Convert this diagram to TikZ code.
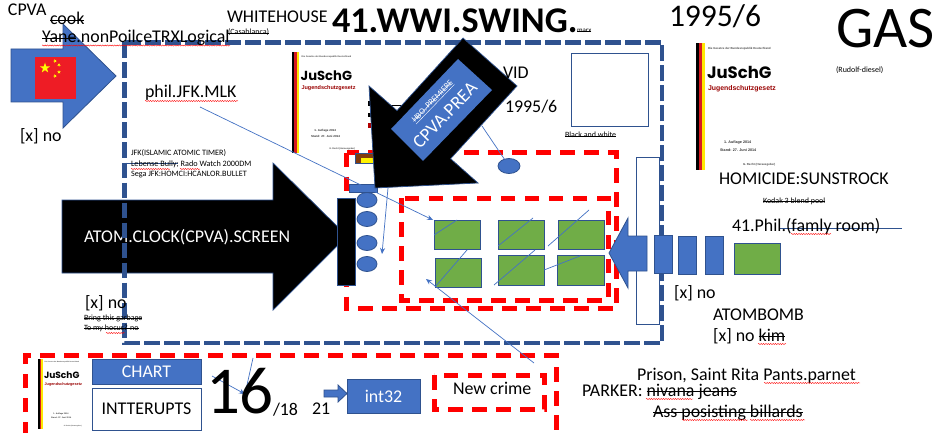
\documentclass[tikz,border=0pt]{standalone}
\usepackage{fontspec}
\setmainfont{Carlito}
\newfontfamily\arialf{Liberation Sans}
\newfontfamily\popf{Poppins}
\usetikzlibrary{shapes.geometric,decorations.pathmorphing,arrows.meta}
\definecolor{bfill}{HTML}{4472C4}
\definecolor{bedge}{HTML}{2F528F}
\definecolor{gfill}{HTML}{70AD47}
\definecolor{brownf}{HTML}{843C0C}
\definecolor{flagred}{HTML}{EE1C25}
\definecolor{flagyel}{HTML}{FFFF00}
\newcommand\stk[1]{\leavevmode\setbox0\hbox{#1}\rlap{\copy0}\rule[0.24em]{\wd0}{0.065em}}
\newcommand\wv[3]{\draw[squig] (#1,#3) -- (#2,#3);}
\newcommand\fs[1]{\fontsize{#1pt}{#1pt}\selectfont}
% rectangle node from two corners: name, x1, y1, x2, y2, style, text
\newcommand\bx[7]{\node[#6,minimum width={(#4-#2)*1pt},minimum height={(#5-#3)*1pt},anchor=north west] (#1) at (#2,#3) {#7};}
\newcommand\thumb[4]{%
\begin{scope}[shift={(#2,#3)},scale=#4,transform shape]
\fill[black] (0,0) rectangle (3,127);
\fill[flagred!90!black] (3,0) rectangle (6,127);
\fill[yellow!90!orange] (6,0) rectangle (9,127);
\node[thtxt,font=\arialf\bfseries\fs{2.9}\color{black!70}] (#1a) at (12,7) {Die Gesetze der Bundesrepublik Deutschland};
\node[thtxt,font=\popf\bfseries\fs{16.5}] (#1b) at (11,36) {JuSchG};
\node[thtxt,font=\arialf\bfseries\fs{6.9}\color{red!60!black}] (#1c) at (12,47.5) {Jugendschutzgesetz};
\node[thtxt,font=\arialf\bfseries\fs{3.7}\color{black!80}] (#1d) at (28,100.5) {1. Auflage 2014};
\node[thtxt,font=\arialf\bfseries\fs{3.7}\color{black!80}] (#1e) at (24,108) {Stand: 27. Juni 2014};
\node[thtxt,font=\arialf\bfseries\fs{2.9}\color{black!70}] (#1f) at (47,122.5) {G. Recht (Herausgeber)};
\end{scope}}
\tikzset{
 txt/.style={anchor=base west,inner sep=0pt,outer sep=0pt,font=\fs{17.9}},
 smalltxt/.style={txt,font=\fs{8}},
 thtxt/.style={anchor=base west,inner sep=0pt,outer sep=0pt},
 blueshape/.style={fill=bfill,draw=bedge,line width=.8pt},
 bluebox/.style={blueshape,inner sep=0pt,outer sep=0pt,text=white,font=\fs{17.9}},
 plainbox/.style={draw=bedge,line width=.8pt,fill=white,inner sep=0pt,outer sep=0pt,font=\fs{17.9}},
 greenbox/.style={fill=gfill,draw=bedge,line width=.8pt,inner sep=0pt,outer sep=0pt},
 blackshape/.style={fill=black,draw=bedge,line width=.7pt},
 dot/.style={ellipse,blueshape,inner sep=0pt,outer sep=0pt},
 bigdash/.style={draw=bedge,line width=4.6pt,dash pattern=on 15.7pt off 4.3pt},
 reddash/.style={draw=red,line width=5pt,dash pattern=on 14.5pt off 9.5pt},
 thinline/.style={draw=bfill,line width=.7pt},
 thinarrow/.style={thinline,-{Stealth[length=6pt,width=5pt]}},
 squig/.style={draw=red,line width=.4pt,decorate,decoration={snake,segment length=2.4pt,amplitude=.55pt}},
 flagstar/.style={star,star points=5,star point ratio=2.6,fill=flagyel,inner sep=0pt,outer sep=0pt},
}
\begin{document}
\begin{tikzpicture}[x=1pt,y=-1pt]
\useasboundingbox (0,0) rectangle (950,433);
\fill[white] (0,0) rectangle (950,433);
% document thumbnails
\thumb{ta}{292}{52}{.795}
\thumb{tb}{696}{43}{1}
\thumb{tc}{38}{359}{.55}
% left blue arrow and flag
\path[blueshape] (11,49) -- (63,49) -- (63,24) -- (116,76) -- (63,128) -- (63,102) -- (11,102) -- cycle;
\fill[flagred] (35,57) rectangle (76,99);
\node[flagstar,minimum size=11pt] (s0) at (45,68) {};
\node[flagstar,minimum size=3.8pt,rotate=20] (s1) at (55,61) {};
\node[flagstar,minimum size=3.8pt,rotate=40] (s2) at (59,65) {};
\node[flagstar,minimum size=3.8pt] (s3) at (59,72) {};
\node[flagstar,minimum size=3.8pt,rotate=20] (s4) at (55,76) {};
% big black arrow
\path[blackshape] (62,200) -- (273,200) -- (273,163) -- (347,236) -- (273,310) -- (273,273) -- (62,273) -- cycle;
\node[txt,text=white] (atom) at (84,242) {ATOM.CLOCK(CPVA).SCREEN};
% big dashed frame
\draw[bigdash] (124.5,42.5) rectangle (662,343);
% red frames
\draw[reddash] (346.5,152.5) rectangle (616.5,308.7);
\draw[reddash] (401,198) rectangle (608,300);
\draw[reddash] (25,436) -- (25,355) -- (556,355) -- (556,436);
\draw[reddash] (434,375) rectangle (544,409);
% boxes in the centre
\bx{brown}{355}{153}{373}{163}{fill=brownf,draw=bedge,line width=.8pt,inner sep=0pt}{}
\fill[yellow] (361,158) rectangle (373,163);
\bx{blk}{337}{198}{355}{285}{fill=black,draw=bedge,line width=.8pt,inner sep=0pt}{}
\node[dot,minimum width=20pt,minimum height=15pt] (e1) at (367,200) {};
\node[dot,minimum width=20pt,minimum height=15pt] (e2) at (367,219) {};
\node[dot,minimum width=20pt,minimum height=15pt] (e3) at (367,243) {};
\node[dot,minimum width=20pt,minimum height=15pt] (e4) at (367,264) {};
\node[dot,minimum width=22pt,minimum height=15pt] (e0) at (509,166) {};
\bx{lid}{349}{184}{377}{192}{bluebox}{}
\bx{g1}{434}{220}{480}{249.5}{greenbox}{}
\bx{g2}{498}{220}{544}{249.5}{greenbox}{}
\bx{g3}{558}{220}{604}{249.5}{greenbox}{}
\bx{g4}{435}{258}{481}{287}{greenbox}{}
\bx{g5}{498}{255}{544}{285}{greenbox}{}
\bx{g6}{557}{255}{604}{285}{greenbox}{}
\bx{g7}{734}{243}{780}{274}{greenbox}{}
\bx{topbox}{571}{53}{648}{126}{plainbox}{}
\bx{tall}{636}{157}{659}{324}{plainbox}{}
\bx{b1}{654}{235}{672}{273}{bluebox}{}
\bx{b2}{678}{236}{696}{274}{bluebox}{}
\bx{b3}{705}{236}{723}{274}{bluebox}{}
\path[blueshape] (647,236) -- (628,236) -- (628,218) -- (609,253) -- (628,288) -- (628,271) -- (647,271) -- cycle;
% bottom row
\bx{chart}{92}{359}{201}{384}{bluebox}{CHART}
\bx{intt}{92}{388}{201}{430}{plainbox}{INTTERUPTS}
\path[blueshape] (324,390) -- (338,390) -- (338,385) -- (347,393.5) -- (338,402) -- (338,397) -- (324,397) -- cycle;
\bx{int}{347}{379}{420}{413}{bluebox}{int32}
% thin connectors
\coordinate (c1) at (200,107); \coordinate (c2) at (433,220);
\coordinate (c3) at (482,126);
\coordinate (c4) at (388,188); \coordinate (c5) at (382,254);
\coordinate (c6) at (457,220); \coordinate (c7) at (434,235);
\coordinate (c8) at (467,250); \coordinate (c9) at (435,287);
\coordinate (c10) at (533,218); \coordinate (c11) at (498,246);
\coordinate (c12) at (535,250); \coordinate (c13) at (494,285);
\coordinate (c14) at (589,210); \coordinate (c15) at (548,246);
\coordinate (c16) at (580,256); \coordinate (c17) at (544,270);
\coordinate (c18) at (534,363); \coordinate (c19) at (426,279);
\coordinate (c20) at (212,376); \coordinate (c21) at (245,394); \coordinate (c22) at (253,358);
\coordinate (c23) at (780,228); \coordinate (c24) at (902,228);
\coordinate (c25) at (124,163); \coordinate (c26) at (178,163);
\draw[thinarrow] (c1) -- (c2);
\draw[thinline] (c3) -- (e0);
\draw[thinarrow] (c4) -- (c5);
\draw[thinline] (c6) -- (c7);
\draw[thinline] (c8) -- (c9);
\draw[thinline] (c10) -- (c11);
\draw[thinline] (c12) -- (c13);
\draw[thinline] (c14) -- (c15);
\draw[thinline] (c16) -- (c17);
\draw[thinarrow] (c18) -- (c19);
\draw[thinarrow] (c20) -- (c21);
\draw[thinline] (c22) -- (c21);
\draw[draw=bedge,line width=.7pt] (c23) -- (c24);
\draw[draw=bedge,line width=.6pt] (c25) -- (c26);
% scraps of text showing beside the diagonal arrow
\fill[black] (368,101) rectangle (371,106);
\fill[black] (368,113) rectangle (371,117);
\fill[red!70!black] (368,123) rectangle (371,128);
\draw[black,line width=.6pt] (391,105) -- (404,105);
% diagonal black arrow
\path[blackshape] (463,38) -- (517,86) -- (450.6,158.7) -- (478,183) -- (375,188) -- (369,86) -- (397,110.6) -- cycle;
\path[blueshape,draw=none] (458,59) -- (492,90) -- (423,161) -- (391,129) -- cycle;
\node[inner sep=0pt,rotate=46,text=white,font=\fs{18.5}] (prea) at (445,115) {CPVA.PREA};
\node[inner sep=0pt,rotate=46,text=white,font=\fs{8.5}] (hbo) at (433,102) {\underline{\stk{HBO. PREMIERE}}};
% texts
\node[txt] (cpva) at (8,16) {CPVA};
\node[txt] (cook) at (50,25) {\stk{cook}};
\node[txt] (yane) at (42,43) {\stk{Yane}.nonPoilceTRXLogical};
\node[smalltxt] (casa) at (228,35) {\stk{(Casablanca)}};
\node[txt] (wh) at (227,23) {WHITEHOUSE};
\node[txt,font=\bfseries\fs{36.2}] (wwi) at (332,33) {41.WWI.SWING.};
\node[smalltxt,font=\fs{7}] (marx) at (577,33) {\stk{marx}};
\node[txt] (vid) at (503,79) {VID};
\node[txt] (y1) at (505,113) {1995/6};
\node[smalltxt] (bw) at (565,138) {\stk{Black and white}};
\node[txt,font=\fs{31.5}] (y2) at (669,27) {1995/6};
\node[txt,font=\fs{59}] (gas) at (836,48) {GAS};
\node[smalltxt] (rud) at (836,73) {(Rudolf-diesel)};
\node[txt] (homi) at (719,184) {HOMICIDE:SUNSTROCK};
\node[smalltxt] (kodak) at (763,203) {\stk{Kodak 3 blend pool}};
\node[txt] (phil41) at (732,231) {41.Phil.(famly room)};
\node[txt] (no1) at (20,142) {[x] no};
\node[txt] (no2) at (85,308) {[x] no};
\node[smalltxt] (bring) at (84,320) {\stk{Bring this garbage}};
\node[smalltxt] (tomy) at (84,330) {\stk{To my hocus? no}};
\node[smalltxt,font=\fs{8.2}] (jfk1) at (131,156) {JFK(ISLAMIC ATOMIC TIMER)};
\node[smalltxt,font=\fs{8.2}] (jfk2) at (131,166) {Lebense Bully; Rado Watch 2000DM};
\node[smalltxt,font=\fs{8.2}] (jfk3) at (131,176) {Sega JFK:HOMCI:HCANLOR.BULLET};
\node[txt] (phil) at (145,98) {phil.JFK.MLK};
\node[txt,font=\fs{67}] (n16) at (206,413) {16};
\node[txt] (n18) at (273,415) {/18};
\node[txt] (n21) at (312,414) {21};
\node[txt] (crime) at (453,394) {New crime};
\node[txt] (prison) at (637,380) {Prison, Saint Rita Pants.parnet};
\node[txt] (parker) at (582,396) {PARKER: \stk{nivana jeans}};
\node[txt] (ass) at (653,417) {\stk{Ass posisting billards}};
\node[txt] (no3) at (674,298) {[x] no};
\node[txt] (bomb) at (713,320) {ATOMBOMB};
\node[txt] (no4) at (713,341) {[x] no \stk{kim}};
% spell-check underlines
\wv{42}{230}{45.5}
\wv{145}{238}{101}
\wv{131}{170}{169}
\wv{180}{200}{169}
\wv{106}{125}{333}
\wv{791}{831}{234}
\wv{758}{786}{344}
\wv{764}{860}{383}
\wv{646}{693}{399}
\wv{682}{748}{420}
\wv{750}{805}{420}
\end{tikzpicture}
\end{document}
